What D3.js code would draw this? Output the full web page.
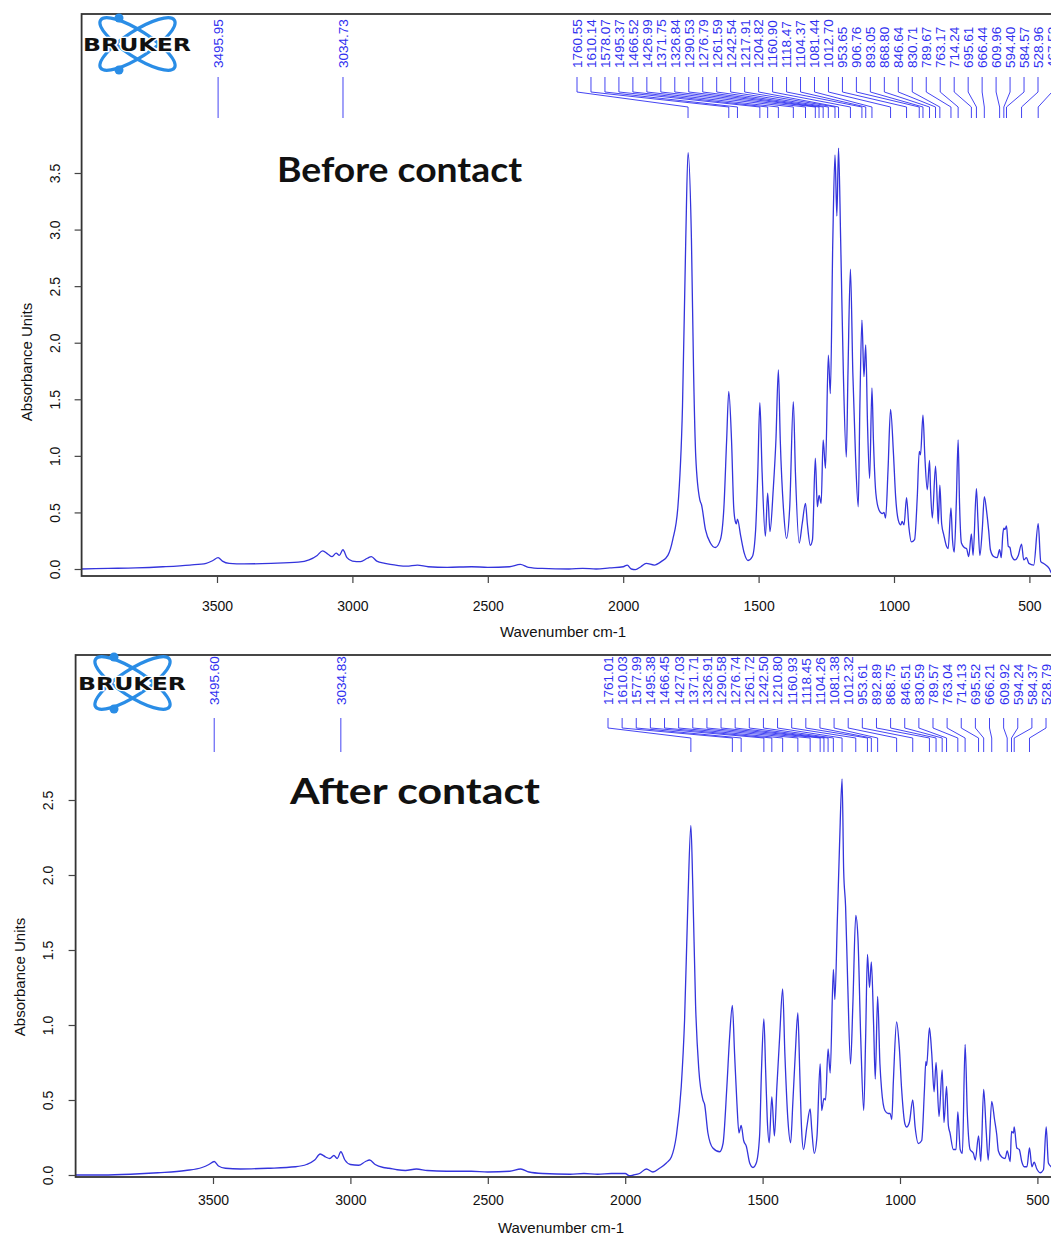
<!DOCTYPE html>
<html><head><meta charset="utf-8">
<script src="https://cdn.jsdelivr.net/npm/d3@7"></script>
<style>body{margin:0;background:#fff;overflow:hidden}svg{display:block}</style>
</head><body>
<svg id="chart" width="1051" height="1236"></svg>
<script>
// ---------------- data ----------------
const xTicks = [3500, 3000, 2500, 2000, 1500, 1000, 500];
const yTicksBefore = [0, 0.5, 1, 1.5, 2, 2.5, 3, 3.5];
const yTicksAfter = [0, 0.5, 1, 1.5, 2, 2.5];

const peaksBeforeIsolated = ["3495.95", "3034.73"];
const peaksBeforeCluster = ["1760.55","1610.14","1578.07","1495.37","1466.52","1426.99","1371.75","1326.84","1290.53","1276.79","1261.59","1242.54","1217.91","1204.82","1160.90","1118.47","1104.37","1081.44","1012.70","953.65","906.76","893.05","868.80","846.64","830.71","789.67","763.17","714.24","695.61","666.44","609.96","594.40","584.57","528.96","467.53"];
const peaksAfterIsolated = ["3495.60", "3034.83"];
const peaksAfterCluster = ["1761.01","1610.03","1577.99","1495.38","1466.45","1427.03","1371.71","1326.91","1290.58","1276.74","1261.72","1242.50","1210.80","1160.93","1118.45","1104.26","1081.38","1012.32","953.61","892.89","868.75","846.51","830.59","789.57","763.04","714.13","695.52","666.21","609.92","594.24","584.37","528.79"];

const spectrumBefore = [
[4000,0.00],[3900,0.005],[3800,0.01],[3700,0.02],[3600,0.035],[3540,0.05],[3515,0.075],[3496,0.10],[3480,0.07],[3455,0.05],[3400,0.045],[3300,0.05],[3200,0.06],[3160,0.08],[3130,0.12],[3110,0.16],[3090,0.13],[3075,0.11],[3060,0.14],[3048,0.12],[3035,0.17],[3020,0.10],[3000,0.07],[2970,0.065],[2945,0.095],[2930,0.11],[2910,0.07],[2880,0.05],[2860,0.04],[2830,0.03],[2800,0.025],[2760,0.035],[2720,0.02],[2650,0.015],[2560,0.02],[2500,0.015],[2420,0.02],[2380,0.04],[2350,0.015],[2300,0.005],[2200,0.0],[2150,0.005],[2100,0.0],[2050,0.01],[2000,0.02],[1985,0.035],[1970,0.0],[1955,-0.005],[1935,0.02],[1915,0.05],[1885,0.035],[1860,0.065],[1835,0.12],[1817,0.26],[1798,0.55],[1781,1.44],[1769,2.91],[1760.55,3.68],[1748,2.91],[1740,1.73],[1732,0.99],[1717,0.61],[1711,0.57],[1696,0.345],[1678,0.23],[1660,0.19],[1641,0.26],[1628,0.55],[1618,1.14],[1610.14,1.57],[1600,1.14],[1592,0.55],[1586,0.42],[1582,0.40],[1578.07,0.44],[1566,0.29],[1553,0.14],[1539,0.075],[1523,0.11],[1511,0.345],[1503,0.85],[1495.37,1.47],[1487,0.85],[1475,0.29],[1466.52,0.67],[1458,0.33],[1446,0.70],[1436,1.14],[1426.99,1.76],[1420,1.14],[1407,0.49],[1397,0.27],[1385,0.55],[1371.75,1.48],[1364,0.85],[1350,0.23],[1339,0.40],[1326.84,0.58],[1320,0.40],[1309,0.21],[1301,0.26],[1290.53,0.98],[1283,0.55],[1276.79,0.65],[1269,0.58],[1261.59,1.14],[1253,0.89],[1242.54,1.89],[1235,1.55],[1226,2.9],[1217.91,3.66],[1211,3.12],[1204.82,3.72],[1197,2.91],[1187,1.73],[1176,0.99],[1170,1.73],[1160.90,2.65],[1152,1.73],[1142,0.99],[1132,0.55],[1126,1.44],[1118.47,2.20],[1111,1.70],[1104.37,1.98],[1098,1.30],[1090,0.80],[1081.44,1.60],[1076,1.14],[1067,0.67],[1055,0.52],[1043,0.49],[1037,0.50],[1031,0.45],[1022,0.88],[1012.70,1.41],[1002,1.02],[994,0.64],[984,0.43],[975,0.39],[970,0.42],[963,0.39],[953.65,0.63],[945,0.37],[936,0.24],[924,0.26],[914,0.64],[906.76,1.04],[902,1.01],[893.05,1.36],[886,0.99],[877,0.70],[868.80,0.96],[865,0.70],[858.5,0.45],[846.64,0.91],[840,0.58],[836.5,0.40],[830.71,0.74],[824,0.40],[816,0.30],[806,0.20],[800,0.18],[789.67,0.54],[784,0.26],[777.5,0.15],[770,0.58],[763.17,1.14],[758,0.58],[751,0.23],[740,0.19],[732,0.18],[724,0.11],[714.24,0.31],[708,0.12],[695.61,0.71],[690,0.43],[683,0.12],[674,0.35],[666.44,0.64],[658,0.51],[650,0.33],[644,0.17],[632,0.11],[619,0.10],[609.96,0.17],[604,0.10],[598,0.31],[594.40,0.36],[590,0.35],[584.57,0.38],[578,0.20],[572,0.19],[566,0.12],[553,0.08],[541,0.12],[528.96,0.22],[521,0.08],[511,0.10],[502,0.05],[484,0.035],[467.53,0.40],[458,0.065],[445,0.045],[427,0.006],[417,-0.04],[400,-0.05]
];

const spectrumAfter = [
[4000,0.0],[3900,0.0],[3800,0.005],[3700,0.015],[3600,0.03],[3540,0.05],[3515,0.07],[3495.6,0.09],[3480,0.06],[3455,0.045],[3400,0.04],[3300,0.045],[3200,0.055],[3160,0.07],[3130,0.10],[3110,0.14],[3090,0.12],[3075,0.11],[3060,0.13],[3048,0.11],[3034.83,0.155],[3020,0.10],[3000,0.07],[2970,0.065],[2945,0.09],[2930,0.10],[2910,0.07],[2880,0.05],[2860,0.045],[2830,0.035],[2800,0.03],[2760,0.04],[2720,0.03],[2650,0.025],[2560,0.025],[2500,0.02],[2420,0.025],[2380,0.04],[2350,0.02],[2300,0.01],[2200,0.005],[2150,0.01],[2100,0.005],[2050,0.01],[2000,0.01],[1985,-0.005],[1970,0.0],[1948,0.01],[1923,0.04],[1899,0.02],[1875,0.045],[1850,0.08],[1832,0.12],[1814,0.26],[1796,0.59],[1784,1.03],[1772,1.81],[1761.01,2.33],[1754,1.92],[1744,1.14],[1732,0.70],[1717,0.50],[1711,0.47],[1699,0.28],[1681,0.18],[1656,0.155],[1644,0.21],[1630,0.59],[1620,0.92],[1610.03,1.13],[1602,0.81],[1593.5,0.48],[1586,0.28],[1577.99,0.33],[1569,0.23],[1559,0.19],[1547,0.08],[1535,0.05],[1523,0.08],[1511,0.26],[1504,0.70],[1495.38,1.04],[1489,0.70],[1483,0.37],[1476,0.215],[1466.45,0.52],[1457,0.26],[1448,0.59],[1438,0.92],[1427.03,1.24],[1419,0.81],[1408,0.37],[1398,0.215],[1390,0.48],[1381,0.81],[1371.71,1.08],[1365,0.70],[1358,0.30],[1351,0.17],[1339,0.32],[1326.91,0.44],[1321,0.30],[1312,0.145],[1302,0.26],[1290.58,0.74],[1285,0.43],[1276.74,0.51],[1271,0.50],[1261.72,0.84],[1254,0.68],[1242.50,1.37],[1237,1.17],[1228,1.70],[1220,2.2],[1210.80,2.64],[1205,2.03],[1198,1.79],[1190,1.26],[1180,0.74],[1171.5,1.14],[1160.93,1.73],[1153,1.58],[1143,0.92],[1132,0.43],[1125,0.92],[1118.45,1.47],[1111,1.25],[1104.26,1.42],[1096,1.0],[1090,0.64],[1081.38,1.19],[1073,0.74],[1067,0.57],[1055,0.43],[1043,0.41],[1036,0.41],[1030,0.37],[1024,0.63],[1012.32,1.02],[1002.5,0.85],[994,0.57],[982,0.34],[976,0.32],[966,0.35],[953.61,0.50],[945,0.32],[933,0.21],[921,0.23],[911,0.57],[906,0.755],[903,0.73],[892.89,0.98],[884.5,0.81],[876,0.555],[868.75,0.75],[858,0.39],[846.51,0.70],[840,0.35],[830.59,0.59],[824,0.33],[818,0.28],[806,0.17],[796,0.17],[789.57,0.42],[781,0.17],[773,0.145],[763.04,0.87],[755,0.41],[745,0.17],[733,0.145],[726,0.10],[714.13,0.26],[706,0.09],[695.52,0.57],[686.5,0.30],[679,0.10],[666.21,0.49],[656,0.37],[648,0.27],[642,0.16],[630,0.12],[617.5,0.11],[609.92,0.16],[599,0.09],[594.24,0.29],[587,0.28],[584.37,0.32],[575,0.18],[566,0.17],[557,0.09],[548,0.055],[538,0.055],[528.79,0.18],[520,0.055],[512,0.085],[502,0.04],[490,0.015],[478,0.035],[468,0.32],[460,0.08],[450,0.055],[420,0.03],[400,0.02]
];

// ---------------- layout ----------------
const panels = [
  { title: "Before contact", spectrum: spectrumBefore, yTicks: yTicksBefore,
    isolated: peaksBeforeIsolated, cluster: peaksBeforeCluster,
    xRef: [217, 894], yRef: [569, 173], yRefVal: 3.5, top: 14, bottom: 576,
    clusterStart: 577, clusterPitch: 13.97,
    lab: { text: 68, t0: 77, t1: 92, t2: 107, t3: 118 },
    yLabelBase: 60, yTitleX: 32, yTitleY: 362,
    xLabelY: 611, xTitleY: 637, xTitleX: 563,
    titleX: 277, titleY: 182, titleSize: 35, titleLen: 245,
    logo: [0, 0] },
  { title: "After contact", spectrum: spectrumAfter, yTicks: yTicksAfter,
    isolated: peaksAfterIsolated, cluster: peaksAfterCluster,
    xRef: [213, 900], yRef: [1175, 800], yRefVal: 2.5, top: 655, bottom: 1177,
    clusterStart: 608, clusterPitch: 14.13,
    lab: { text: 705, t0: 718, t1: 728, t2: 738, t3: 752 },
    yLabelBase: 53, yTitleX: 25, yTitleY: 977,
    xLabelY: 1205, xTitleY: 1233, xTitleX: 561,
    titleX: 290, titleY: 804, titleSize: 37, titleLen: 250,
    logo: [-5, 639] }
];

const svg = d3.select("#chart");
svg.append("rect").attr("width", 1051).attr("height", 1236).attr("fill", "#fff");

const traceColor = "#3434dc";
const labelColor = "#3030f0";
const axisFont = "'Liberation Sans', Arial, sans-serif";

panels.forEach((p, pi) => {
  const x = d3.scaleLinear().domain([3500, 1000]).range(p.xRef);
  const y = d3.scaleLinear().domain([0, p.yRefVal]).range(p.yRef);
  const left = x(4000), right = x(400);
  const g = svg.append("g");

  const clipId = "clip" + pi;
  svg.append("defs").append("clipPath").attr("id", clipId)
    .append("rect").attr("x", left).attr("y", p.top).attr("width", right - left).attr("height", p.bottom - p.top);

  const line = d3.line().x(d => x(d[0])).y(d => y(d[1])).curve(d3.curveMonotoneX);
  g.append("path").datum(p.spectrum)
    .attr("clip-path", `url(#${clipId})`)
    .attr("d", line).attr("fill", "none")
    .attr("stroke", traceColor).attr("stroke-width", 1.3).attr("stroke-linejoin", "round");

  g.append("rect").attr("x", left).attr("y", p.top).attr("width", right - left).attr("height", p.bottom - p.top)
    .attr("fill", "none").attr("stroke", "#333").attr("stroke-width", 1.8);

  const xAxis = d3.axisBottom(x).tickValues(xTicks).tickSize(7).tickSizeOuter(0).tickFormat(d3.format("d"));
  const xg = g.append("g").attr("transform", `translate(0,${p.bottom})`).call(xAxis);
  xg.select(".domain").remove();
  xg.selectAll(".tick line").attr("stroke", "#444").attr("stroke-width", 1.2);
  xg.selectAll(".tick text").attr("y", p.xLabelY - p.bottom).attr("dy", null)
    .attr("font-family", axisFont).attr("font-size", 14).attr("fill", "#111");

  const yAxis = d3.axisLeft(y).tickValues(p.yTicks).tickSize(7).tickSizeOuter(0).tickFormat(d3.format(".1f"));
  const yg = g.append("g").attr("transform", `translate(${left},0)`).call(yAxis);
  yg.select(".domain").remove();
  yg.selectAll(".tick line").attr("stroke", "#444").attr("stroke-width", 1.2);
  yg.selectAll(".tick text")
    .attr("x", null).attr("dy", null)
    .attr("transform", `translate(${p.yLabelBase - left},0) rotate(-90)`)
    .attr("text-anchor", "middle")
    .attr("font-family", axisFont).attr("font-size", 14).attr("fill", "#111");

  g.append("text").attr("transform", `translate(${p.yTitleX},${p.yTitleY}) rotate(-90)`)
    .attr("text-anchor", "middle").attr("font-family", axisFont).attr("font-size", 15).attr("fill", "#111")
    .text("Absorbance Units");
  g.append("text").attr("x", p.xTitleX).attr("y", p.xTitleY)
    .attr("text-anchor", "middle").attr("font-family", axisFont).attr("font-size", 15).attr("fill", "#111")
    .text("Wavenumber cm-1");

  const labels = [];
  p.isolated.forEach(s => labels.push({ s, lx: x(+s), px: x(+s) }));
  p.cluster.forEach((s, i) => labels.push({ s, lx: p.clusterStart + i * p.clusterPitch, px: x(+s) }));
  const L = p.lab;
  const conn = d3.line();
  const lg = g.append("g");
  lg.selectAll("path").data(labels).join("path")
    .attr("d", d => conn([[d.lx, L.t0], [d.lx, L.t1], [d.px, L.t2], [d.px, L.t3]]))
    .attr("fill", "none").attr("stroke", labelColor).attr("stroke-width", 0.9);
  lg.selectAll("text").data(labels).join("text")
    .attr("transform", d => `translate(${d.lx},${L.text}) rotate(-90)`)
    .attr("dy", "0.36em")
    .attr("font-family", axisFont).attr("font-size", 13.5).attr("fill", labelColor)
    .text(d => d.s);

  g.append("text").attr("x", p.titleX).attr("y", p.titleY)
    .attr("font-family", "Lato, 'Open Sans', sans-serif").attr("font-weight", 700)
    .attr("font-size", p.titleSize).attr("fill", "#111")
    .attr("textLength", p.titleLen).attr("lengthAdjust", "spacingAndGlyphs")
    .text(p.title);

  const lgo = g.append("g").attr("transform", `translate(${p.logo[0]},${p.logo[1]})`);
  const blue = "#2a8de6";
  [33, -33].forEach(a => {
    lgo.append("ellipse").attr("cx", 0).attr("cy", 0).attr("rx", 44).attr("ry", 13)
      .attr("transform", `translate(137.5,44) rotate(${a})`)
      .attr("fill", "none").attr("stroke", blue).attr("stroke-width", 3.2);
  });
  lgo.append("circle").attr("cx", 119).attr("cy", 18).attr("r", 4.5).attr("fill", blue);
  lgo.append("circle").attr("cx", 119).attr("cy", 70).attr("r", 4.5).attr("fill", blue);
  lgo.append("text").attr("x", 83).attr("y", 51)
    .attr("font-family", "'DejaVu Sans', sans-serif").attr("font-weight", 900).attr("font-size", 17)
    .attr("textLength", 108).attr("lengthAdjust", "spacingAndGlyphs")
    .attr("fill", "#111").attr("stroke", "#fff").attr("stroke-width", 2.5).attr("paint-order", "stroke")
    .text("BRUKER");
});
</script>
</body></html>
